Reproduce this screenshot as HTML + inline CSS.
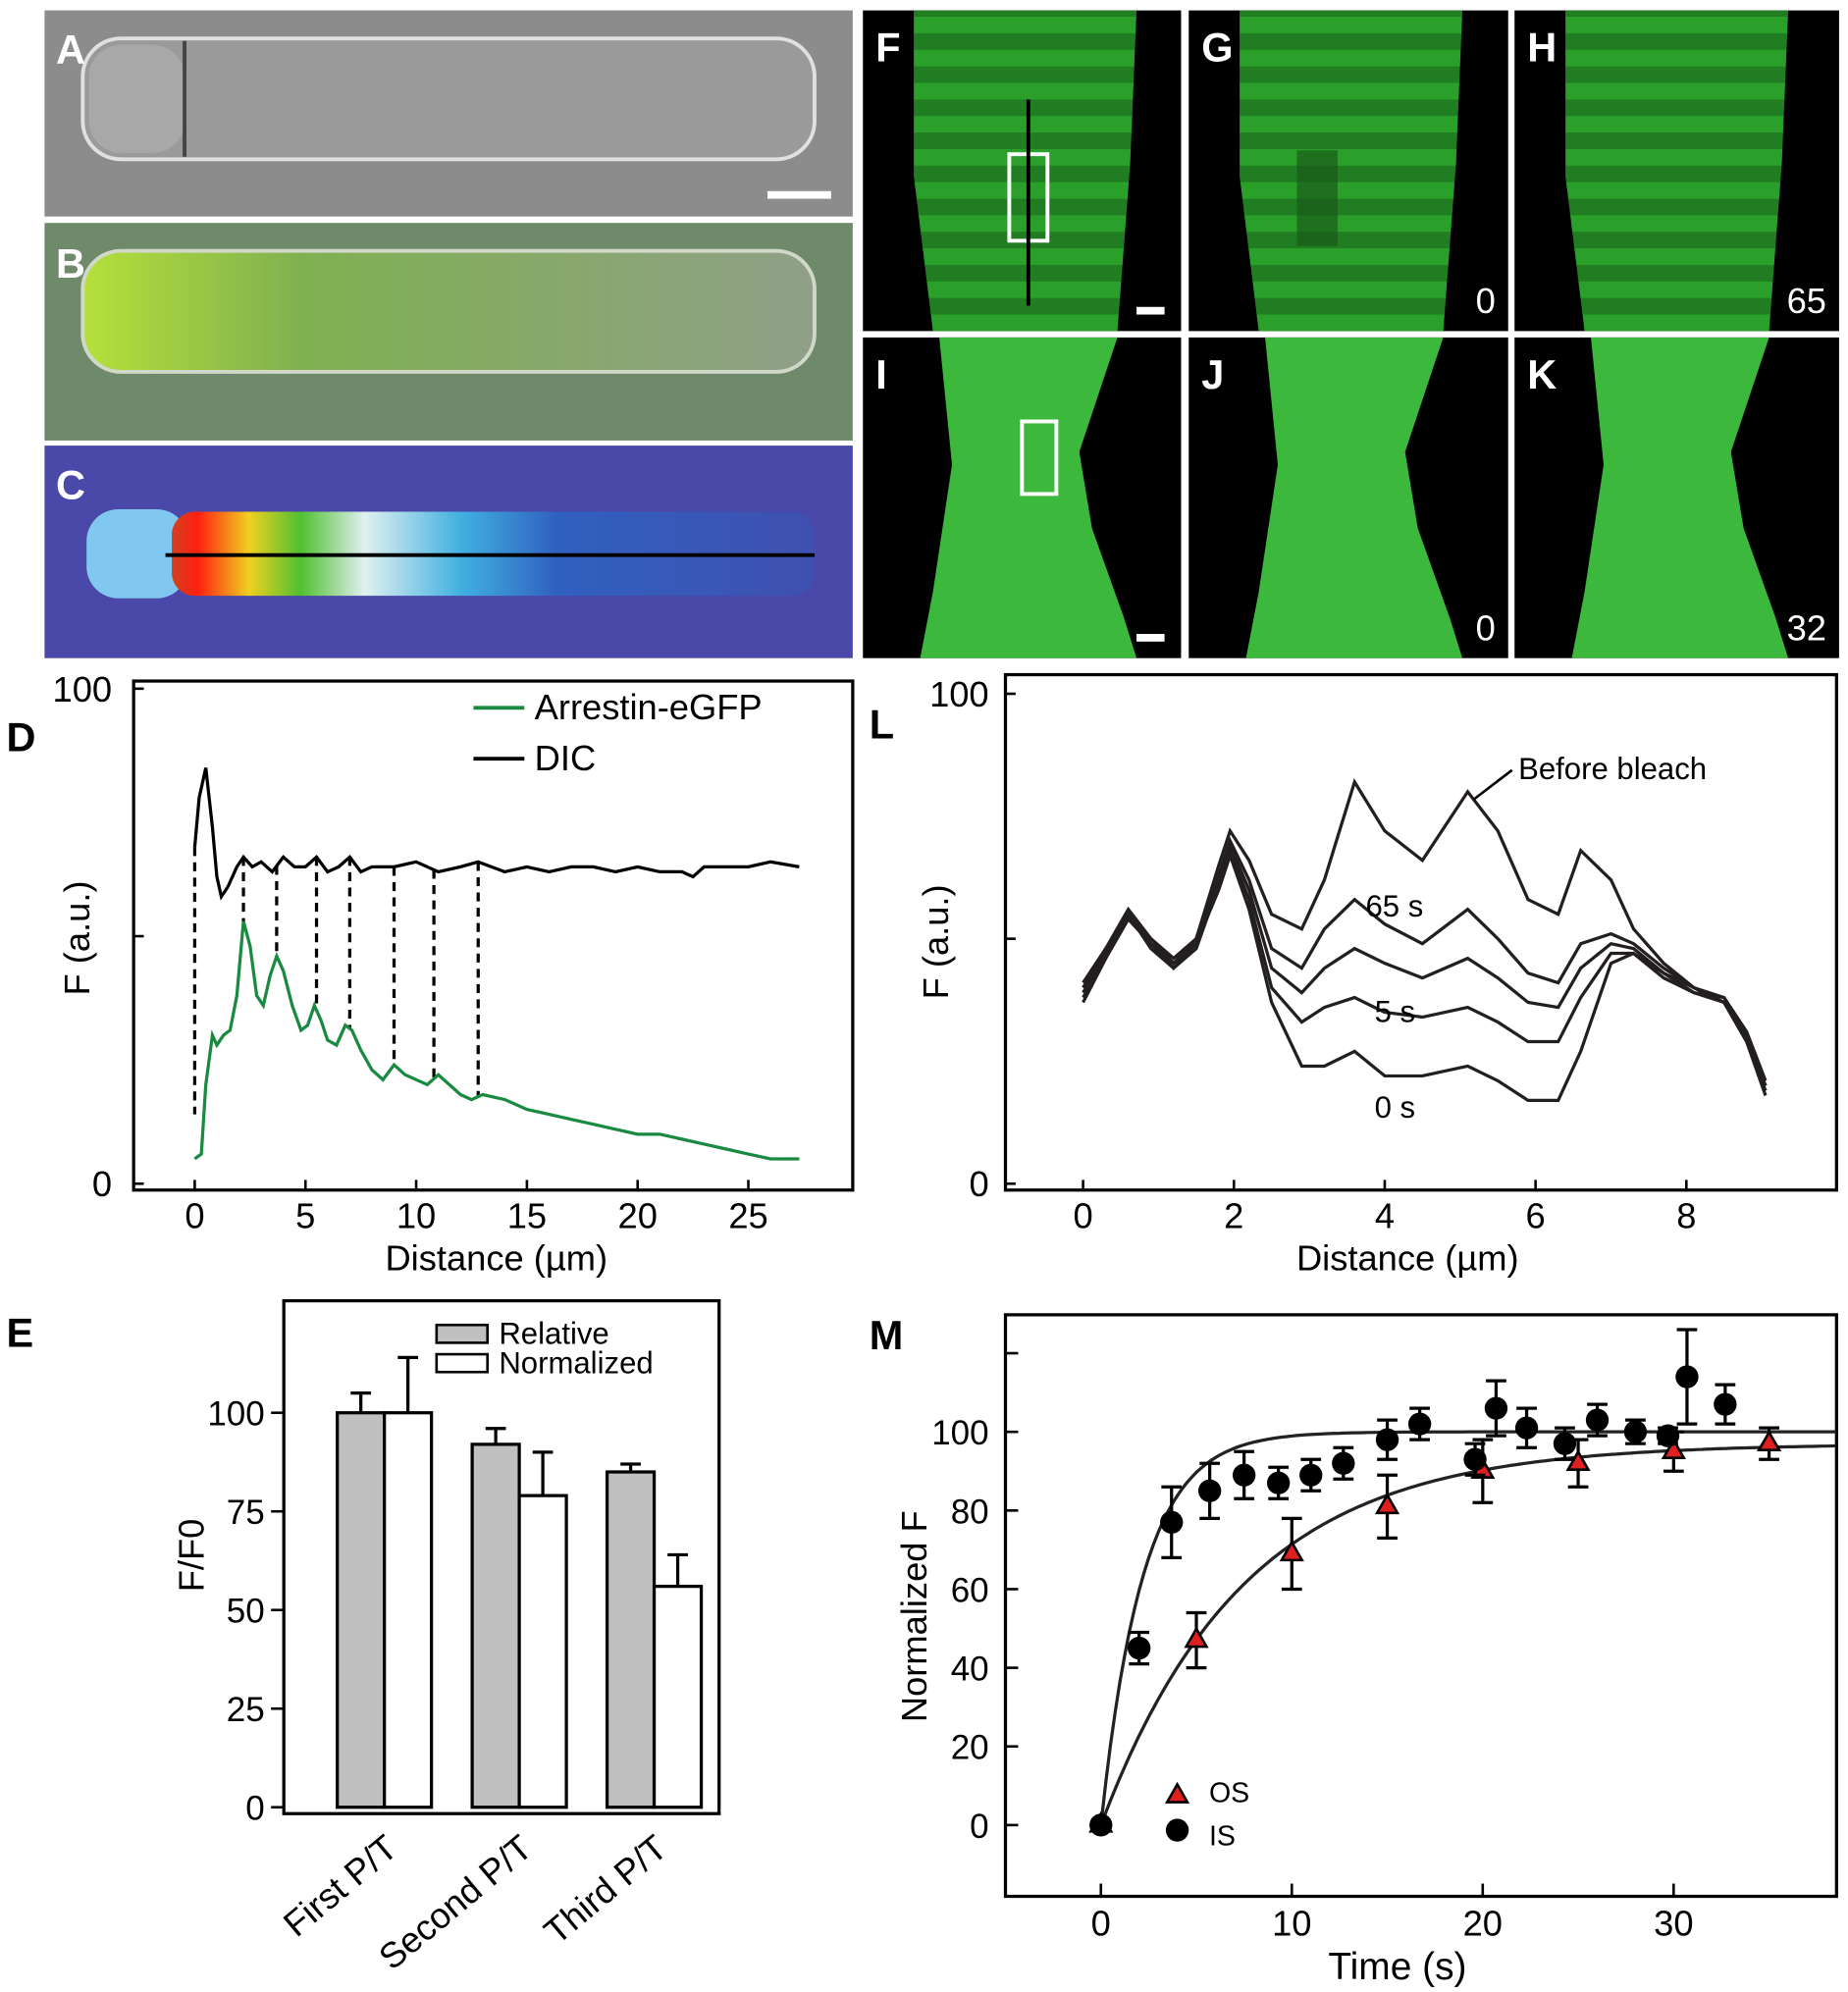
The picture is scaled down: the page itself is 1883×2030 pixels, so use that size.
<!DOCTYPE html>
<html><head><meta charset="utf-8"><style>
html,body{margin:0;padding:0;background:#fff;}
svg{display:block;font-family:"Liberation Sans",Arial,sans-serif;}
</style></head><body>
<svg id="fig" width="1883" height="2030" viewBox="0 0 1452 1565" xmlns="http://www.w3.org/2000/svg">
<defs>
<linearGradient id="gB" x1="0" x2="1"><stop offset="0" stop-color="#b5e03a"/><stop offset="0.3" stop-color="#7fb050"/><stop offset="1" stop-color="#90a088"/></linearGradient>
<linearGradient id="gC" x1="0" x2="1"><stop offset="0" stop-color="#d04020"/><stop offset="0.04" stop-color="#ff2010"/><stop offset="0.12" stop-color="#f0d020"/><stop offset="0.2" stop-color="#50c030"/><stop offset="0.3" stop-color="#e0f0f0"/><stop offset="0.45" stop-color="#40b0e0"/><stop offset="0.6" stop-color="#3060c0"/><stop offset="1" stop-color="#4050b0"/></linearGradient>
<pattern id="stripes" width="20" height="26" patternUnits="userSpaceOnUse"><rect width="20" height="13" fill="#000" opacity="0.22"/></pattern>
</defs>
<g>
<rect x="35" y="8" width="635" height="162" fill="#8c8c8c"/>
<rect x="65" y="30" width="575" height="95" rx="30" fill="#9a9a9a" stroke="#e0e0e0" stroke-width="3"/>
<rect x="70" y="35" width="75" height="85" rx="25" fill="#a8a8a8"/>
<line x1="145" y1="32" x2="145" y2="123" stroke="#444" stroke-width="3"/>
<rect x="603" y="150" width="50" height="6" fill="#fff"/>
<text x="44" y="50" font-size="32" font-weight="bold" fill="#fff">A</text></g>
<g>
<rect x="35" y="175" width="635" height="171" fill="#6f8a6a"/>
<rect x="65" y="197" width="575" height="95" rx="30" fill="url(#gB)" stroke="#d0d8c8" stroke-width="3"/>
<text x="44" y="218" font-size="32" font-weight="bold" fill="#fff">B</text></g>
<g>
<rect x="35" y="350" width="635" height="167" fill="#4a48a8"/>
<rect x="68" y="400" width="80" height="70" rx="25" fill="#80c8f0"/>
<rect x="135" y="402" width="505" height="66" rx="18" fill="url(#gC)"/>
<line x1="130" y1="436" x2="640" y2="436" stroke="#000" stroke-width="3"/>
<text x="44" y="392" font-size="32" font-weight="bold" fill="#fff">C</text></g>
<g id="confocal"></g>
<g id="chartD"></g>
<g id="chartL"></g>
<g id="chartE"></g>
<g id="chartM"></g>
</svg>
<script>
const NS="http://www.w3.org/2000/svg";
function el(tag,attrs,parent,txt){const e=document.createElementNS(NS,tag);for(const k in attrs)e.setAttribute(k,attrs[k]);if(txt!==undefined)e.textContent=txt;parent.appendChild(e);return e;}
function path(pts){return pts.map((p,i)=>(i?'L':'M')+p[0].toFixed(1)+','+p[1].toFixed(1)).join('');}

const dGreenX=[0,0.3,0.5,0.8,1,1.3,1.6,1.9,2.2,2.5,2.8,3.1,3.4,3.7,4,4.4,4.8,5.1,5.4,5.7,6,6.4,6.8,7.1,7.5,8,8.5,9,9.5,10,10.5,11,11.5,12,12.5,13,14,15,16,17,18,19,20,21,22,23,24,25,26,27.3];
const dGreenY=[5,6,20,30,28,30,31,38,53,48,38,36,42,46,43,36,31,32,36,33,29,28,32,31,27,23,21,24,22,21,20,22,20,18,17,18,17,15,14,13,12,11,10,10,9,8,7,6,5,5];
const dDicX=[0,0.2,0.5,0.8,1,1.2,1.5,1.9,2.2,2.6,3,3.5,4,4.5,5,5.5,6,6.5,7,7.5,8,9,10,11,12,12.8,14,15,16,17,18,19,20,21,22,22.5,23,24,25,26,27.3];
const dDicY=[68,78,84,72,62,58,60,64,66,64,65,63,66,64,64,66,63,64,66,63,64,64,65,63,64,65,63,64,63,64,64,63,64,63,63,62,64,64,64,65,64];
const dDash=[0,2.2,3.7,5.5,7,9,10.8,12.8];
const dXTicks=[0,5,10,15,20,25];
const dYTicks=[0,50,100];
const dYLabels=['0','','100'];

const lX=[0,0.3,0.6,0.9,1.2,1.5,1.8,1.95,2.2,2.5,2.9,3.2,3.6,4,4.5,5.1,5.5,5.9,6.3,6.6,7,7.3,7.7,8.1,8.5,8.8,9.05];
const lBefore=[40,48,56,50,45,50,65,72,66,55,52,62,82,72,66,80,72,58,55,68,62,52,45,40,38,30,20];
const l65=[39,47,55,49,44,49,63,70,62,48,44,52,58,53,49,56,50,43,41,49,51,49,44,40,37,29,19];
const lMid=[41,48,54,50,46,50,62,69,60,44,39,44,48,45,42,46,42,37,36,44,49,48,43,39,38,31,21];
const l5=[38,46,55,48,44,48,61,68,58,40,33,36,38,35,34,36,33,29,29,38,47,47,43,40,37,30,20];
const l0=[37,46,54,49,45,49,60,67,56,37,24,24,27,22,22,24,21,17,17,27,45,47,42,39,37,29,18];
const lXTicks=[0,2,4,6,8];

const eCats=['First P/T','Second P/T','Third P/T'];
const eRel=[100,92,85];
const eRelErr=[5,4,2];
const eNorm=[100,79,56];
const eNormErr=[14,11,8];
const eYTicks=[0,25,50,75,100];

const mIsT=[0,2,3.7,5.7,7.5,9.3,11,12.7,15,16.7,19.6,20.7,22.3,24.3,26,28,29.7,30.7,32.7];
const mIsV=[0,45,77,85,89,87,89,92,98,102,93,106,101,97,103,100,99,114,107];
const mIsE=[0,4,9,7,6,4,4,4,5,4,4,7,5,4,4,3,2,12,5];
const mOsT=[0,5,10,15,20,25,30,35];
const mOsV=[0,47,69,81,90,92,95,97];
const mOsE=[0,7,9,8,8,6,5,4];
const mFitAmp=[100,97];
const mFitTau=[2.2,7.5];
const mXTicks=[0,10,20,30];
const mYTicks=[0,20,40,60,80,100,120];

(function(){
 const g=document.getElementById('confocal');
 const panels=[['F',678,8,''],['G',934,8,'0'],['H',1190,8,'65'],['I',678,265,''],['J',934,265,'0'],['K',1190,265,'32']];
 panels.forEach((p,i)=>{
  const grp=el('g',{},g);
  
  
  const w=p[0]==='F'||p[0]==='I'?250:(p[0]==='H'||p[0]==='K'?255:251);
  el('rect',{x:p[1],y:p[2],width:w,height:252,fill:'#000'},grp);
  const top=i<3;
  const x=p[1],y=p[2];
  let d;
  if(top) d=`M${x+40},${y} L${x+215},${y} L${x+210},${y+120} L${x+200},${y+252} L${x+55},${y+252} L${x+40},${y+130}Z`;
  else d=`M${x+60},${y} L${x+200},${y} L${x+170},${y+90} L${x+180},${y+150} L${x+205},${y+220} L${x+215},${y+252} L${x+45},${y+252} L${x+55},${y+200} L${x+70},${y+100}Z`;
  el('path',{d:d,fill:top?'#2aa02a':'#3cb83c'},grp);
  if(top){el('path',{d:d,fill:'url(#stripes)'},grp);}
  if(p[0]==='G') el('rect',{x:x+85,y:y+110,width:32,height:75,fill:'#1a5a1a',opacity:0.7},grp);
  el('text',{x:x+10,y:y+40,'font-size':32,'font-weight':'bold',fill:'#fff'},grp,p[0]);
  if(p[3]) el('text',{x:x+w-10,y:y+238,'font-size':28,fill:'#fff','text-anchor':'end'},grp,p[3]);
  if(p[0]==='F'){el('rect',{x:x+115,y:y+113,width:30,height:68,fill:'none',stroke:'#fff','stroke-width':3},grp);el('line',{x1:x+130,y1:y+70,x2:x+130,y2:y+232,stroke:'#000','stroke-width':3},grp);}
  if(p[0]==='I'){el('rect',{x:x+125,y:y+66,width:27,height:57,fill:'none',stroke:'#fff','stroke-width':3},grp);}
  if(p[0]==='F'||p[0]==='I') el('rect',{x:x+215,y:y+233,width:22,height:6,fill:'#fff'},grp);
 });
})();

function axesBox(g,x0,y0,x1,y1){el('rect',{x:x0,y:y0,width:x1-x0,height:y1-y0,fill:'none',stroke:'#000','stroke-width':2.5},g);}

(function(){
 const g=document.getElementById('chartD');
 const X=v=>153+v*17.4, Y=v=>930-v*3.89;
 axesBox(g,105,535,670,935);
 dXTicks.forEach(t=>{el('line',{x1:X(t),y1:935,x2:X(t),y2:927,stroke:'#000','stroke-width':2},g);el('text',{x:X(t),y:965,'font-size':28,'text-anchor':'middle'},g,t);});
 dYTicks.forEach((t,i)=>{el('line',{x1:105,y1:Y(t),x2:113,y2:Y(t),stroke:'#000','stroke-width':2},g);if(dYLabels[i])el('text',{x:88,y:Y(t)+10,'font-size':28,'text-anchor':'end'},g,dYLabels[i]);});
 el('text',{x:390,y:998,'font-size':28,'text-anchor':'middle'},g,'Distance (µm)');
 el('text',{x:0,y:0,'font-size':28,'text-anchor':'middle',transform:'translate(70,737) rotate(-90)'},g,'F (a.u.)');
 el('text',{x:5,y:590,'font-size':32,'font-weight':'bold'},g,'D');
 const interp=(xs,ys,x)=>{for(let i=1;i<xs.length;i++)if(x<=xs[i]){const f=(x-xs[i-1])/(xs[i]-xs[i-1]);return ys[i-1]+f*(ys[i]-ys[i-1]);}return ys[ys.length-1];};
 dDash.forEach(t=>{const a=t===0?dDicY[0]:interp(dDicX,dDicY,t);const b=t===0?14:interp(dGreenX,dGreenY,t);const l=el('line',{x1:X(t),y1:Y(a),x2:X(t),y2:Y(b),stroke:'#000','stroke-width':2.5,'stroke-dasharray':'7,5'},g);});
 const gp=el('path',{d:path(dGreenX.map((x,i)=>[X(x),Y(dGreenY[i])])),fill:'none',stroke:'#1a8a40','stroke-width':2.5},g);
 
 const dp=el('path',{d:path(dDicX.map((x,i)=>[X(x),Y(dDicY[i])])),fill:'none',stroke:'#000','stroke-width':2.5},g);
 
 const lg=el('g',{},g);
 el('line',{x1:372,y1:556,x2:412,y2:556,stroke:'#1a8a40','stroke-width':3},lg);el('text',{x:420,y:565,'font-size':28},lg,'Arrestin-eGFP');
 el('line',{x1:372,y1:596,x2:412,y2:596,stroke:'#000','stroke-width':3},lg);el('text',{x:420,y:605,'font-size':28},lg,'DIC');
})();

(function(){
 const g=document.getElementById('chartL');
 const X=v=>851+v*59.25, Y=v=>930-v*3.85;
 axesBox(g,790,530,1443,935);
 lXTicks.forEach(t=>{el('line',{x1:X(t),y1:935,x2:X(t),y2:927,stroke:'#000','stroke-width':2},g);el('text',{x:X(t),y:965,'font-size':28,'text-anchor':'middle'},g,t);});
 [[0,'0'],[50,''],[100,'100']].forEach(t=>{el('line',{x1:790,y1:Y(t[0]),x2:798,y2:Y(t[0]),stroke:'#000','stroke-width':2},g);if(t[1])el('text',{x:777,y:Y(t[0])+10,'font-size':28,'text-anchor':'end'},g,t[1]);});
 el('text',{x:1106,y:998,'font-size':28,'text-anchor':'middle'},g,'Distance (µm)');
 el('text',{x:0,y:0,'font-size':28,'text-anchor':'middle',transform:'translate(745,740) rotate(-90)'},g,'F (a.u.)');
 el('text',{x:683,y:580,'font-size':32,'font-weight':'bold'},g,'L');
 const series=[['before-bleach',lBefore],['65s',l65],['intermediate',lMid],['5s',l5],['0s',l0]];
 series.forEach(s=>{const p=el('path',{d:path(lX.map((x,i)=>[X(x),Y(s[1][i])])),fill:'none',stroke:'#231f20','stroke-width':2.5},g);});
 el('line',{x1:1158,y1:628,x2:1188,y2:605,stroke:'#000','stroke-width':2},g);
 el('text',{x:1193,y:612,'font-size':24},g,'Before bleach');
 el('text',{x:1073,y:720,'font-size':24},g,'65 s');
 el('text',{x:1080,y:803,'font-size':24},g,'5 s');
 el('text',{x:1080,y:878,'font-size':24},g,'0 s');
})();

(function(){
 const g=document.getElementById('chartE');
 const Y=v=>1420-v*3.1; const bw=37; const x0=[265,371,477];
 axesBox(g,223,1022,565,1425);
 eYTicks.forEach(t=>{el('line',{x1:223,y1:Y(t),x2:213,y2:Y(t),stroke:'#000','stroke-width':2},g);el('text',{x:208,y:Y(t)+10,'font-size':27,'text-anchor':'end'},g,t);});
 el('text',{x:0,y:0,'font-size':28,'text-anchor':'middle',transform:'translate(160,1222) rotate(-90)'},g,'F/F0');
 el('text',{x:5,y:1058,'font-size':32,'font-weight':'bold'},g,'E');
 eCats.forEach((c,i)=>{
  const xr=x0[i], xn=x0[i]+bw;
  const eb=(x,v,e)=>{el('line',{x1:x+bw/2,y1:Y(v),x2:x+bw/2,y2:Y(v+e),stroke:'#000','stroke-width':2.5},g);el('line',{x1:x+bw/2-8,y1:Y(v+e),x2:x+bw/2+8,y2:Y(v+e),stroke:'#000','stroke-width':2.5},g);};
  eb(xr,eRel[i],eRelErr[i]);eb(xn,eNorm[i],eNormErr[i]);
  const r=el('rect',{x:xr,y:Y(eRel[i]),width:bw,height:Y(0)-Y(eRel[i]),fill:'#c0c0c0',stroke:'#000','stroke-width':2.5},g);
  
  const n=el('rect',{x:xn,y:Y(eNorm[i]),width:bw,height:Y(0)-Y(eNorm[i]),fill:'#fff',stroke:'#000','stroke-width':2.5},g);
  
  el('text',{x:0,y:0,'font-size':28,'text-anchor':'end',transform:`translate(${xr+bw+12},1455) rotate(-40)`},g,c);
 });
 const lg=el('g',{},g);
 el('rect',{x:343,y:1041,width:40,height:14,fill:'#c0c0c0',stroke:'#000','stroke-width':2},lg);el('text',{x:392,y:1056,'font-size':24},lg,'Relative');
 el('rect',{x:343,y:1064,width:40,height:14,fill:'#fff',stroke:'#000','stroke-width':2},lg);el('text',{x:392,y:1079,'font-size':24},lg,'Normalized');
})();

(function(){
 const g=document.getElementById('chartM');
 const X=v=>865+v*15, Y=v=>1434-v*3.09;
 const B=1490;
 axesBox(g,790,1033,1443,B);
 mXTicks.forEach(t=>{el('line',{x1:X(t),y1:B,x2:X(t),y2:B-10,stroke:'#000','stroke-width':2},g);el('text',{x:X(t),y:B+31,'font-size':28,'text-anchor':'middle'},g,t);});
 mYTicks.forEach(t=>{el('line',{x1:790,y1:Y(t),x2:800,y2:Y(t),stroke:'#000','stroke-width':2},g);if(t<=100)el('text',{x:777,y:Y(t)+10,'font-size':27,'text-anchor':'end'},g,t);});
 el('text',{x:1098,y:1555,'font-size':30,'text-anchor':'middle'},g,'Time (s)');
 el('text',{x:0,y:0,'font-size':28,'text-anchor':'middle',transform:'translate(728,1270) rotate(-90)'},g,'Normalized F');
 el('text',{x:683,y:1060,'font-size':32,'font-weight':'bold'},g,'M');
 [0,1].forEach(k=>{const pts=[];for(let t=0;t<=38.5;t+=0.25)pts.push([X(t),Y(mFitAmp[k]*(1-Math.exp(-t/mFitTau[k])))]);const p=el('path',{d:path(pts),fill:'none',stroke:'#222','stroke-width':2.5},g);});
 const eb=(t,v,e)=>{if(!e)return;el('line',{x1:X(t),y1:Y(v-e),x2:X(t),y2:Y(v+e),stroke:'#000','stroke-width':2.5},g);[v-e,v+e].forEach(u=>el('line',{x1:X(t)-8,y1:Y(u),x2:X(t)+8,y2:Y(u),stroke:'#000','stroke-width':2.5},g));};
 mOsT.forEach((t,i)=>{eb(t,mOsV[i],mOsE[i]);const p=el('path',{d:`M${X(t)},${Y(mOsV[i])-9}l8,14h-16z`,fill:'#e02020',stroke:'#000','stroke-width':2},g);});
 mIsT.forEach((t,i)=>{eb(t,mIsV[i],mIsE[i]);const c=el('circle',{cx:X(t),cy:Y(mIsV[i]),r:9,fill:'#000'},g);});
 const lg=el('g',{},g);
 el('path',{d:'M925,1402l8,14h-16z',fill:'#e02020',stroke:'#000','stroke-width':2},lg);el('text',{x:950,y:1416,'font-size':22},lg,'OS');
 el('circle',{cx:925,cy:1438,r:9,fill:'#000'},lg);el('text',{x:950,y:1450,'font-size':22},lg,'IS');
})();
</script>
</body></html>
